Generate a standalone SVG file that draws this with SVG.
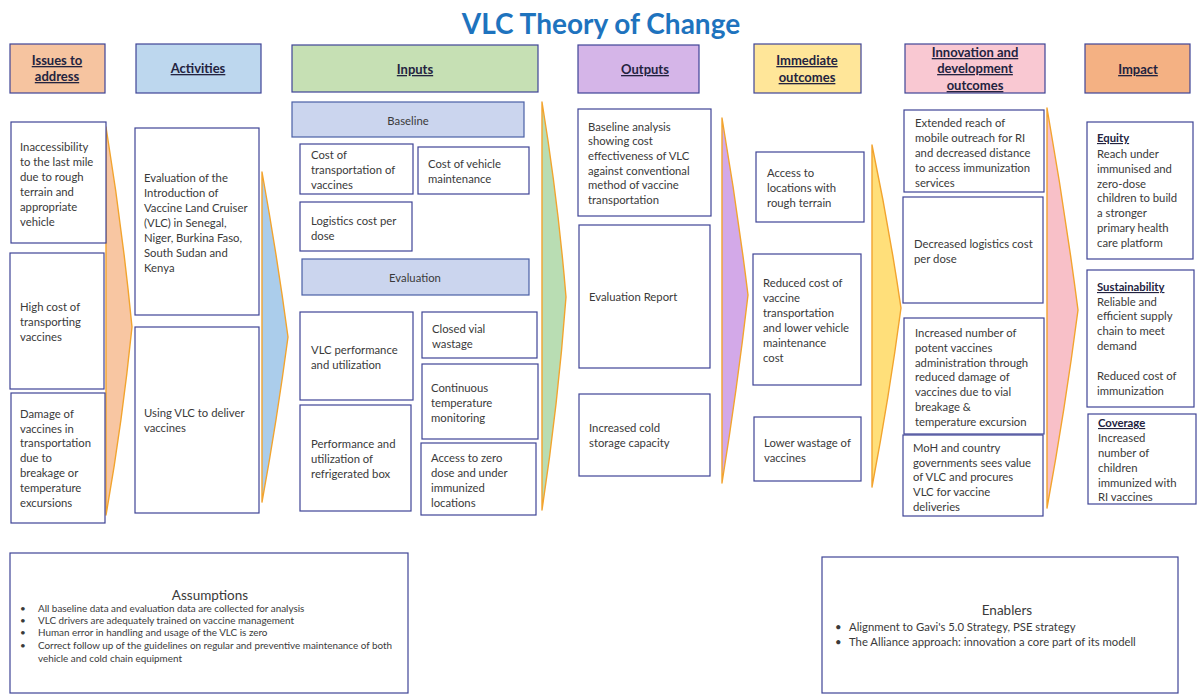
<svg xmlns="http://www.w3.org/2000/svg" width="1199" height="694" viewBox="0 0 1199 694">
  <defs>
    <style>
      .box { fill: #ffffff; stroke: #3f4496; stroke-width: 1.2; }
      .hdr { stroke: #3f4496; stroke-width: 1.2; }
      .sub { fill: #cbd5ee; stroke: #4a5fa6; stroke-width: 1.2; }
      .chev { stroke: #f2a42e; stroke-width: 1.4; stroke-linejoin: round; }
      .ht { font-family: Lato, "Open Sans", sans-serif; font-size: 13px; font-weight: bold; fill: #23233f; text-decoration: underline; text-anchor: middle; }
      .t { font-family: Lato, "Open Sans", sans-serif; font-size: 11.3px; fill: #3a3a3a; }
      .tc { font-family: Lato, "Open Sans", sans-serif; font-size: 11.3px; fill: #3a3a3a; text-anchor: middle; }
      .tb { font-weight: bold; text-decoration: underline; fill: #23233f; }
      .small { font-family: Lato, "Open Sans", sans-serif; font-size: 9.9px; fill: #3a3a3a; }
      .mid { font-family: Lato, "Open Sans", sans-serif; font-size: 11.3px; fill: #3a3a3a; }
      .cap { font-family: Lato, "Open Sans", sans-serif; font-size: 13.5px; fill: #3a3a3a; text-anchor: middle; }
    </style>
  </defs>

  <rect width="1199" height="694" fill="#ffffff"/>

  <!-- Title -->
  <text x="601" y="34" font-family="Lato, 'Open Sans', sans-serif" font-size="28" font-weight="bold" fill="#1e73be" text-anchor="middle">VLC Theory of Change</text>

  <!-- Chevrons leading from one column to the next -->
  <g id="connectors">
    <path class="chev" fill="#f8c6a2" d="M106,127 Q122,225 132,327 Q122,425 106,515 Z"/>
    <path class="chev" fill="#abcdeb" d="M262,172 Q277,255 288,337 Q277,420 262,502 Z"/>
    <path class="chev" fill="#b9ddb3" d="M542,102 Q558,200 566,297 Q558,405 542,510 Z"/>
    <path class="chev" fill="#d3a9e8" d="M722,118 Q737,206 748,295 Q737,390 722,483 Z"/>
    <path class="chev" fill="#ffdf7a" d="M872,145 Q889,226 901,308 Q889,398 872,487 Z"/>
    <path class="chev" fill="#f8c0c8" d="M1047,108 Q1065,210 1078,310 Q1065,410 1047,508 Z"/>
  </g>

  <!-- Column headers -->
  <g id="hdr-issues">
    <rect class="hdr" x="10" y="44" width="95" height="49" fill="#f6c4a0"/>
    <text class="ht"><tspan x="57" y="65">Issues to</tspan><tspan x="57" y="81">address</tspan></text>
  </g>
  <g id="hdr-activities">
    <rect class="hdr" x="136" y="44" width="125" height="49" fill="#bdd7ee"/>
    <text class="ht" x="198" y="73">Activities</text>
  </g>
  <g id="hdr-inputs">
    <rect class="hdr" x="292" y="45" width="246" height="47" fill="#c6e0b4"/>
    <text class="ht" x="415" y="74">Inputs</text>
  </g>
  <g id="hdr-outputs">
    <rect class="hdr" x="578" y="45" width="121" height="48" fill="#d5b5e8"/>
    <text class="ht" x="645" y="74">Outputs</text>
  </g>
  <g id="hdr-immediate">
    <rect class="hdr" x="754" y="44" width="107" height="49" fill="#ffe699"/>
    <text class="ht"><tspan x="807" y="65">Immediate</tspan><tspan x="807" y="82">outcomes</tspan></text>
  </g>
  <g id="hdr-innovation">
    <rect class="hdr" x="905" y="44" width="140" height="49" fill="#f9c8d2"/>
    <text class="ht"><tspan x="975" y="57">Innovation and</tspan><tspan x="975" y="73">development</tspan><tspan x="975" y="90">outcomes</tspan></text>
  </g>
  <g id="hdr-impact">
    <rect class="hdr" x="1085" y="44" width="105" height="49" fill="#f4b183"/>
    <text class="ht" x="1138" y="74">Impact</text>
  </g>

  <!-- Issues to address -->
  <g id="issue-access">
    <rect class="box" x="11" y="122" width="95" height="121"/>
    <text class="t"><tspan x="20" y="151">Inaccessibility</tspan><tspan x="20" y="166">to the last mile</tspan><tspan x="20" y="181">due to rough</tspan><tspan x="20" y="196">terrain and</tspan><tspan x="20" y="211">appropriate</tspan><tspan x="20" y="226">vehicle</tspan></text>
  </g>
  <g id="issue-cost">
    <rect class="box" x="10" y="253" width="94" height="136"/>
    <text class="t"><tspan x="20" y="311">High cost of</tspan><tspan x="20" y="326">transporting</tspan><tspan x="20" y="341">vaccines</tspan></text>
  </g>
  <g id="issue-damage">
    <rect class="box" x="11" y="393" width="94" height="130"/>
    <text class="t"><tspan x="20" y="418">Damage of</tspan><tspan x="20" y="433">vaccines in</tspan><tspan x="20" y="447">transportation</tspan><tspan x="20" y="462">due to</tspan><tspan x="20" y="477">breakage or</tspan><tspan x="20" y="492">temperature</tspan><tspan x="20" y="507">excursions</tspan></text>
  </g>

  <!-- Activities -->
  <g id="act-evaluation">
    <rect class="box" x="135" y="128" width="124" height="187"/>
    <text class="t"><tspan x="144" y="182">Evaluation of the</tspan><tspan x="144" y="197">Introduction of</tspan><tspan x="144" y="212">Vaccine Land Cruiser</tspan><tspan x="144" y="227">(VLC) in  Senegal,</tspan><tspan x="144" y="242">Niger, Burkina Faso,</tspan><tspan x="144" y="257">South Sudan and</tspan><tspan x="144" y="272">Kenya</tspan></text>
  </g>
  <g id="act-deliver">
    <rect class="box" x="135" y="327" width="124" height="186"/>
    <text class="t"><tspan x="144" y="417">Using VLC to deliver</tspan><tspan x="144" y="432">vaccines</tspan></text>
  </g>

  <!-- Inputs -->
  <g id="in-baseline">
    <rect class="sub" x="292" y="102" width="232" height="35"/>
    <text class="tc" x="408" y="125">Baseline</text>
  </g>
  <g id="in-transport-cost">
    <rect class="box" x="300" y="144" width="113" height="50"/>
    <text class="t"><tspan x="311" y="159">Cost of</tspan><tspan x="311" y="174">transportation of</tspan><tspan x="311" y="189">vaccines</tspan></text>
  </g>
  <g id="in-maintenance-cost">
    <rect class="box" x="418" y="147" width="111" height="47"/>
    <text class="t"><tspan x="428" y="168">Cost of vehicle</tspan><tspan x="428" y="183">maintenance</tspan></text>
  </g>
  <g id="in-logistics-cost">
    <rect class="box" x="300" y="202" width="112" height="49"/>
    <text class="t"><tspan x="311" y="225">Logistics cost per</tspan><tspan x="311" y="240">dose</tspan></text>
  </g>
  <g id="in-evaluation">
    <rect class="sub" x="302" y="259" width="227" height="36"/>
    <text class="tc" x="415" y="282">Evaluation</text>
  </g>
  <g id="in-vlc-performance">
    <rect class="box" x="300" y="312" width="113" height="88"/>
    <text class="t"><tspan x="311" y="354">VLC performance</tspan><tspan x="311" y="369">and utilization</tspan></text>
  </g>
  <g id="in-refrigerated-box">
    <rect class="box" x="300" y="405" width="111" height="106"/>
    <text class="t"><tspan x="311" y="448">Performance and</tspan><tspan x="311" y="463">utilization of</tspan><tspan x="311" y="478">refrigerated box</tspan></text>
  </g>
  <g id="in-vial-wastage">
    <rect class="box" x="422" y="312" width="115" height="46"/>
    <text class="t"><tspan x="432" y="333">Closed vial</tspan><tspan x="432" y="348">wastage</tspan></text>
  </g>
  <g id="in-temperature">
    <rect class="box" x="422" y="364" width="116" height="75"/>
    <text class="t"><tspan x="431" y="392">Continuous</tspan><tspan x="431" y="407">temperature</tspan><tspan x="431" y="422">monitoring</tspan></text>
  </g>
  <g id="in-zero-dose">
    <rect class="box" x="421" y="443" width="115" height="72"/>
    <text class="t"><tspan x="431" y="462">Access to zero</tspan><tspan x="431" y="477">dose and under</tspan><tspan x="431" y="492">immunized</tspan><tspan x="431" y="507">locations</tspan></text>
  </g>

  <!-- Outputs -->
  <g id="out-baseline-analysis">
    <rect class="box" x="578" y="109" width="133" height="107"/>
    <text class="t"><tspan x="588" y="131">Baseline analysis</tspan><tspan x="588" y="145">showing cost</tspan><tspan x="588" y="160">effectiveness of VLC</tspan><tspan x="588" y="175">against conventional</tspan><tspan x="588" y="189">method of vaccine</tspan><tspan x="588" y="204">transportation</tspan></text>
  </g>
  <g id="out-report">
    <rect class="box" x="579" y="225" width="131" height="143"/>
    <text class="t" x="589" y="301">Evaluation Report</text>
  </g>
  <g id="out-cold-storage">
    <rect class="box" x="579" y="394" width="131" height="82"/>
    <text class="t"><tspan x="589" y="432">Increased cold</tspan><tspan x="589" y="447">storage capacity</tspan></text>
  </g>

  <!-- Immediate outcomes -->
  <g id="im-access">
    <rect class="box" x="756" y="152" width="108" height="70"/>
    <text class="t"><tspan x="767" y="177">Access to</tspan><tspan x="767" y="192">locations with</tspan><tspan x="767" y="207">rough terrain</tspan></text>
  </g>
  <g id="im-reduced-cost">
    <rect class="box" x="753" y="254" width="108" height="131"/>
    <text class="t"><tspan x="763" y="287">Reduced cost of</tspan><tspan x="763" y="302">vaccine</tspan><tspan x="763" y="317">transportation</tspan><tspan x="763" y="332">and lower vehicle</tspan><tspan x="763" y="347">maintenance</tspan><tspan x="763" y="362">cost</tspan></text>
  </g>
  <g id="im-wastage">
    <rect class="box" x="754" y="417" width="107" height="64"/>
    <text class="t"><tspan x="764" y="447">Lower wastage of</tspan><tspan x="764" y="462">vaccines</tspan></text>
  </g>

  <!-- Innovation and development outcomes -->
  <g id="dev-reach">
    <rect class="box" x="904" y="110" width="140" height="82"/>
    <text class="t"><tspan x="915" y="127">Extended reach of</tspan><tspan x="915" y="142">mobile outreach for RI</tspan><tspan x="915" y="157">and decreased distance</tspan><tspan x="915" y="172">to access immunization</tspan><tspan x="915" y="187">services</tspan></text>
  </g>
  <g id="dev-logistics">
    <rect class="box" x="903" y="197" width="140" height="106"/>
    <text class="t"><tspan x="914" y="248">Decreased logistics cost</tspan><tspan x="914" y="263">per dose</tspan></text>
  </g>
  <g id="dev-potency">
    <rect class="box" x="904" y="318" width="140" height="116"/>
    <text class="t"><tspan x="915" y="337">Increased number of</tspan><tspan x="915" y="352">potent vaccines</tspan><tspan x="915" y="367">administration through</tspan><tspan x="915" y="381">reduced damage of</tspan><tspan x="915" y="396">vaccines due to vial</tspan><tspan x="915" y="411">breakage &amp;</tspan><tspan x="915" y="426">temperature excursion</tspan></text>
  </g>
  <g id="dev-procurement">
    <rect class="box" x="903" y="435" width="140" height="81"/>
    <text class="t"><tspan x="913" y="452">MoH and country</tspan><tspan x="913" y="467">governments sees value</tspan><tspan x="913" y="481">of VLC and  procures</tspan><tspan x="913" y="496">VLC for vaccine</tspan><tspan x="913" y="511">deliveries</tspan></text>
  </g>

  <!-- Impact -->
  <g id="impact-equity">
    <rect class="box" x="1087" y="122" width="106" height="137"/>
    <text class="t"><tspan class="tb" x="1097" y="142">Equity</tspan><tspan x="1097" y="158">Reach under</tspan><tspan x="1097" y="173">immunised and</tspan><tspan x="1097" y="188">zero-dose</tspan><tspan x="1097" y="202">children to build</tspan><tspan x="1097" y="217">a stronger</tspan><tspan x="1097" y="232">primary health</tspan><tspan x="1097" y="247">care platform</tspan></text>
  </g>
  <g id="impact-sustainability">
    <rect class="box" x="1087" y="270" width="107" height="137"/>
    <text class="t"><tspan class="tb" x="1097" y="291">Sustainability</tspan><tspan x="1097" y="306">Reliable and</tspan><tspan x="1097" y="320">efficient supply</tspan><tspan x="1097" y="335">chain to meet</tspan><tspan x="1097" y="350">demand</tspan><tspan x="1097" y="380">Reduced cost of</tspan><tspan x="1097" y="395">immunization</tspan></text>
  </g>
  <g id="impact-coverage">
    <rect class="box" x="1088" y="414" width="108" height="90"/>
    <text class="t"><tspan class="tb" x="1098" y="427">Coverage</tspan><tspan x="1098" y="442">Increased</tspan><tspan x="1098" y="457">number of</tspan><tspan x="1098" y="472">children</tspan><tspan x="1098" y="487">immunized with</tspan><tspan x="1098" y="501">RI vaccines</tspan></text>
  </g>

  <!-- Assumptions -->
  <g id="assumptions">
    <rect class="box" x="10" y="553" width="398" height="140"/>
    <text class="cap" x="210" y="600">Assumptions</text>
    <g class="small">
      <text x="20" y="612">•</text><text x="38" y="612">All baseline data and evaluation data are collected for analysis</text>
      <text x="20" y="624">•</text><text x="38" y="624">VLC drivers are adequately trained on vaccine management</text>
      <text x="20" y="636">•</text><text x="38" y="636">Human error in handling and usage of the VLC is zero</text>
      <text x="20" y="649">•</text><text x="38" y="649">Correct follow up of the guidelines on regular and preventive maintenance of both</text>
      <text x="38" y="662">vehicle and cold chain equipment</text>
    </g>
  </g>

  <!-- Enablers -->
  <g id="enablers">
    <rect class="box" x="822" y="557" width="356" height="136"/>
    <text class="cap" x="1007" y="615">Enablers</text>
    <g class="mid">
      <text x="835" y="631">•</text><text x="849" y="631">Alignment to Gavi's 5.0 Strategy, PSE strategy</text>
      <text x="835" y="646">•</text><text x="849" y="646">The Alliance approach: innovation a core part of its modell</text>
    </g>
  </g>
</svg>
